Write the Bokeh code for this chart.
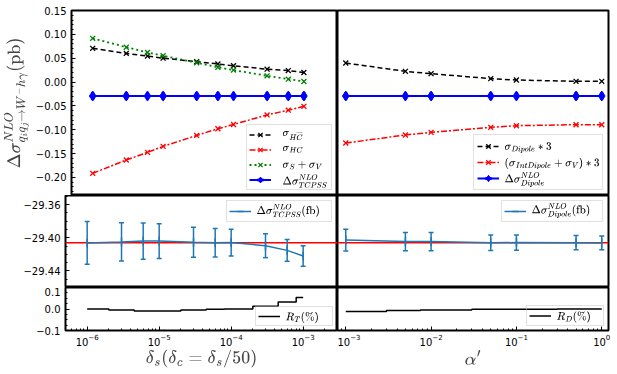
import numpy as np
from bokeh.plotting import figure
from bokeh.layouts import column, row
from bokeh.models import (Range1d, FixedTicker, LogTicker, CustomJSTickFormatter,
                          Legend, LegendItem, Span, Label)
from bokeh.embed import file_html
from bokeh.resources import INLINE

# ---------------- data ----------------
delta_s = [1e-6, 3e-6, 6e-6, 1e-5, 3e-5, 6e-5, 1e-4, 3e-4, 6e-4, 1e-3]
sigma_hcbar = [0.0706, 0.0600, 0.0545, 0.0500, 0.0427, 0.0378, 0.0340, 0.0270, 0.0240, 0.0200]
sigma_hc = [-0.1915, -0.1636, -0.1475, -0.1350, -0.1120, -0.0980, -0.0890, -0.0690, -0.0590, -0.0510]
sigma_sv = [0.0916, 0.0730, 0.0620, 0.0550, 0.0405, 0.0310, 0.0250, 0.0130, 0.0060, 0.0010]
dsig_tcpss_pb = [-0.0294, -0.0294, -0.0294, -0.0294, -0.0294, -0.0294, -0.0294, -0.0294, -0.0294, -0.0294]
dsig_tcpss_fb = [-29.4062, -29.4050, -29.4040, -29.4040, -29.4054, -29.4060, -29.4058, -29.4096, -29.4152, -29.4220]
err_tcpss_fb = [0.0258, 0.0230, 0.0218, 0.0210, 0.0182, 0.0172, 0.0162, 0.0144, 0.0132, 0.0124]
R_T = [0.0005, -0.0044, -0.0088, -0.0088, -0.0044, -0.0015, 0.0, 0.013, 0.032, 0.054]

alpha = [1e-3, 5e-3, 1e-2, 5e-2, 1e-1, 5e-1, 1.0]
sigma_dipole3 = [0.0398, 0.0224, 0.0175, 0.0070, 0.0042, 0.0014, 0.0014]
sigma_intdip3 = [-0.1280, -0.1110, -0.1056, -0.0950, -0.0916, -0.0895, -0.0895]
dsig_dipole_pb = [-0.0294, -0.0294, -0.0294, -0.0294, -0.0294, -0.0294, -0.0294]
dsig_dipole_fb = [-29.4028, -29.4046, -29.4046, -29.4060, -29.4058, -29.4060, -29.4062]
err_dipole_fb = [0.0132, 0.0110, 0.0110, 0.0094, 0.0092, 0.0086, 0.0084]
R_D = [-0.0118, -0.0074, -0.0044, -0.0015, -0.0010, 0.0, 0.0]

ref_fb = -29.406

top_ticks = [-0.20, -0.15, -0.10, -0.05, 0.00, 0.05, 0.10, 0.15]
top_minor = [-0.23, -0.22, -0.21, -0.19, -0.18, -0.17, -0.16, -0.14, -0.13, -0.12, -0.11,
             -0.09, -0.08, -0.07, -0.06, -0.04, -0.03, -0.02, -0.01, 0.01, 0.02, 0.03, 0.04,
             0.06, 0.07, 0.08, 0.09, 0.11, 0.12, 0.13, 0.14]
mid_ticks = [-29.44, -29.40, -29.36]
mid_minor = [-29.45, -29.43, -29.42, -29.41, -29.39, -29.38, -29.37, -29.35]
bot_ticks = [-0.1, 0.0, 0.1]
bot_minor = [-0.075, -0.05, -0.025, 0.025, 0.05, 0.075]

# ---------------- layout constants (page has no margin) ----------------
LB = 65
FW_L = 272
FW_R = 271
RB = 9
TOPB = 10
H_TOP = 185
H_MID = 92
H_BOT = 45
BOT_B = 16
LABEL_H = 374 - (TOPB + H_TOP + H_MID + H_BOT + BOT_B)

XR_L = Range1d(5e-7, 3e-3)
XR_R = Range1d(8e-4, 1.2)
YR_TOP = Range1d(-0.238, 0.15)
YR_MID = Range1d(-29.46, -29.349)
YR_BOT = Range1d(-0.1, 0.1)

FONT = "DejaVu Sans"


def fmt(dec):
    return CustomJSTickFormatter(code="return tick.toFixed(%d).replace('-', '\\u2212');" % dec)


def make(width, height, xr, yr, left_border, bottom_border, top_border=0, right_border=0):
    p = figure(width=width, height=height, x_axis_type="log", x_range=xr, y_range=yr,
               output_backend="svg", toolbar_location=None,
               min_border_left=left_border, min_border_right=right_border,
               min_border_top=top_border, min_border_bottom=bottom_border)
    p.grid.visible = False
    p.outline_line_color = "black"
    p.outline_line_width = 2
    p.outline_line_alpha = 1
    p.background_fill_color = "white"
    p.border_fill_color = "white"
    for ax in p.xaxis + p.yaxis:
        ax.axis_line_color = None
        ax.major_tick_in = 4
        ax.major_tick_out = 0
        ax.minor_tick_in = 2
        ax.minor_tick_out = 0
        ax.major_tick_line_color = "black"
        ax.minor_tick_line_color = "black"
        ax.major_label_text_font = FONT
        ax.major_label_text_font_size = "10px"
        ax.major_label_text_color = "black"
        ax.major_label_standoff = 5
    return p


def add_legend(p, renderer_groups, texts, corner, frame_w, frame_h, label_width,
               row_h=15, pad=2, glyph_w=22, standoff=4, margin=5, font_size="9px"):
    lg = Legend(items=[LegendItem(label=" ", renderers=g) for g in renderer_groups])
    lg.location = corner
    lg.border_line_color = "#c4c4c4"
    lg.border_line_width = 1
    lg.background_fill_alpha = 0.0
    lg.label_text_font_size = "6px"
    lg.glyph_width = glyph_w
    lg.glyph_height = row_h
    lg.label_height = row_h
    lg.label_width = label_width
    lg.label_standoff = standoff
    lg.padding = pad
    lg.spacing = 0
    lg.margin = margin
    p.add_layout(lg)
    n = len(texts)
    box_h = 2 * pad + n * row_h
    box_right = frame_w - margin
    if corner == "bottom_right":
        box_top = margin + box_h
    else:
        box_top = frame_h - margin
    tx = box_right - pad - label_width
    for i, t in enumerate(texts):
        ty = box_top - pad - (i + 0.5) * row_h
        p.add_layout(Label(x=tx, y=ty, x_units="screen", y_units="screen", text=t,
                           text_font_size=font_size, text_align="left",
                           text_baseline="middle", text_color="black", level="overlay"))


def step_mid(x, y):
    x = np.asarray(x, dtype=float)
    y = np.asarray(y, dtype=float)
    mids = (x[:-1] + x[1:]) / 2
    xs = np.concatenate([[x[0]], np.repeat(mids, 2), [x[-1]]])
    ys = np.repeat(y, 2)
    return xs, ys


# ---------------- top left ----------------
tl = make(LB + FW_L, H_TOP + TOPB, XR_L, YR_TOP, LB, 0, top_border=TOPB)
tl.xaxis.visible = False
tl.yaxis.ticker = FixedTicker(ticks=top_ticks, minor_ticks=top_minor)
tl.yaxis.formatter = fmt(2)
tl.yaxis.axis_label = r"$$\Delta\sigma^{NLO}_{q_iq_j\to W^-h\gamma}\mathrm{(pb)}$$"
tl.yaxis.axis_label_text_font_size = "14px"
tl.yaxis.axis_label_standoff = 4

r1l = tl.line(delta_s, sigma_hcbar, color="black", line_width=1.5, line_dash="5 3")
r1m = tl.scatter(delta_s, sigma_hcbar, marker="x", color="black", size=7, line_width=1.3)
r2l = tl.line(delta_s, sigma_hc, color="red", line_width=1.5, line_dash="6 2 2 2")
r2m = tl.scatter(delta_s, sigma_hc, marker="x", color="red", size=7, line_width=1.3)
r3l = tl.line(delta_s, sigma_sv, color="green", line_width=1.8, line_dash="2 3")
r3m = tl.scatter(delta_s, sigma_sv, marker="x", color="green", size=7, line_width=1.3)
r4l = tl.line(delta_s, dsig_tcpss_pb, color="blue", line_width=2)
r4v = tl.scatter(delta_s, dsig_tcpss_pb, marker="dash", angle=np.pi / 2, color="blue", size=8, line_width=3)
r4m = tl.scatter(delta_s, dsig_tcpss_pb, marker="diamond", color="blue", size=10)
add_legend(tl, [[r1l, r1m], [r2l, r2m], [r3l, r3m], [r4l, r4v, r4m]],
           [r"$$\sigma_{H\overline{C}}$$", r"$$\sigma_{HC}$$", r"$$\sigma_S+\sigma_V$$",
            r"$$\Delta\sigma^{NLO}_{TCPSS}$$"],
           "bottom_right", FW_L, H_TOP, label_width=54, row_h=15, pad=2)

# ---------------- top right ----------------
tr = make(FW_R + RB, H_TOP + TOPB, XR_R, YR_TOP, 0, 0, top_border=TOPB, right_border=RB)
tr.xaxis.visible = False
tr.yaxis.visible = False
s1l = tr.line(alpha, sigma_dipole3, color="black", line_width=1.5, line_dash="5 3")
s1m = tr.scatter(alpha, sigma_dipole3, marker="x", color="black", size=7, line_width=1.3)
s2l = tr.line(alpha, sigma_intdip3, color="red", line_width=1.5, line_dash="6 2 2 2")
s2m = tr.scatter(alpha, sigma_intdip3, marker="x", color="red", size=7, line_width=1.3)
s3l = tr.line(alpha, dsig_dipole_pb, color="blue", line_width=2)
s3v = tr.scatter(alpha, dsig_dipole_pb, marker="dash", angle=np.pi / 2, color="blue", size=8, line_width=3)
s3m = tr.scatter(alpha, dsig_dipole_pb, marker="diamond", color="blue", size=10)
add_legend(tr, [[s1l, s1m], [s2l, s2m], [s3l, s3v, s3m]],
           [r"$$\sigma_{Dipole}*3$$", r"$$(\sigma_{IntDipole}+\sigma_V)*3$$",
            r"$$\Delta\sigma^{NLO}_{Dipole}$$"],
           "bottom_right", FW_R, H_TOP, label_width=96, row_h=16, pad=3)

# ---------------- middle ----------------
BLUE = "#1f77b4"


def middle(p, x, y, err, label, frame_w, lw):
    sp = Span(location=ref_fb, dimension="width", line_color="red", line_width=1.5, level="underlay")
    p.add_layout(sp)
    y = np.asarray(y)
    e = np.asarray(err)
    p.segment(x0=x, y0=y - e, x1=x, y1=y + e, color=BLUE, line_width=1.5)
    p.scatter(x, y - e, marker="dash", size=5, color=BLUE, line_width=1.5)
    p.scatter(x, y + e, marker="dash", size=5, color=BLUE, line_width=1.5)
    rl = p.line(x, y, color=BLUE, line_width=1.5)
    rv = p.scatter(x, y, marker="dash", angle=np.pi / 2, size=9, color=BLUE, line_width=1.5)
    add_legend(p, [[rl, rv]], [label], "top_right", frame_w, H_MID,
               label_width=lw, row_h=16, pad=2)


ml = make(LB + FW_L, H_MID, XR_L, YR_MID, LB, 0)
ml.xaxis.visible = False
ml.yaxis.ticker = FixedTicker(ticks=mid_ticks, minor_ticks=mid_minor)
ml.yaxis.formatter = fmt(2)
middle(ml, delta_s, dsig_tcpss_fb, err_tcpss_fb, r"$$\Delta\sigma^{NLO}_{TCPSS}\text{(fb)}$$", FW_L, 74)

mr = make(FW_R + RB, H_MID, XR_R, YR_MID, 0, 0, right_border=RB)
mr.xaxis.visible = False
mr.yaxis.visible = False
middle(mr, alpha, dsig_dipole_fb, err_dipole_fb, r"$$\Delta\sigma^{NLO}_{Dipole}\text{(fb)}$$", FW_R, 70)

# ---------------- bottom ----------------
bl = make(LB + FW_L, H_BOT + BOT_B, XR_L, YR_BOT, LB, BOT_B)
bl.yaxis.ticker = FixedTicker(ticks=bot_ticks, minor_ticks=bot_minor)
bl.yaxis.formatter = fmt(1)
bl.xaxis.ticker = LogTicker(num_minor_ticks=10)
bl.xaxis.major_label_standoff = 3
xs, ys = step_mid(delta_s, R_T)
rb = bl.line(xs, ys, color="black", line_width=1.5)
add_legend(bl, [[rb]], [r"$$R_T(\%)$$"], "bottom_right", FW_L, H_BOT,
           label_width=46, row_h=14, pad=2, margin=4)

br = make(FW_R + RB, H_BOT + BOT_B, XR_R, YR_BOT, 0, BOT_B, right_border=RB)
br.yaxis.visible = False
br.xaxis.ticker = LogTicker(num_minor_ticks=10)
br.xaxis.major_label_standoff = 3
xs, ys = step_mid(alpha, R_D)
rb2 = br.line(xs, ys, color="black", line_width=1.5)
add_legend(br, [[rb2]], [r"$$R_D(\%)$$"], "bottom_right", FW_R, H_BOT,
           label_width=46, row_h=15, pad=2, margin=4)

# ---------------- x-axis titles strip ----------------
lab = figure(width=LB + FW_L + FW_R + RB, height=LABEL_H, x_axis_type=None, y_axis_type=None,
             x_range=Range1d(0, 1), y_range=Range1d(0, 1),
             output_backend="svg", toolbar_location=None,
             min_border_left=0, min_border_right=0, min_border_top=0, min_border_bottom=0)
lab.grid.visible = False
lab.outline_line_color = None
lab.border_fill_color = "white"
lab.add_layout(Label(x=LB + FW_L / 2, y=LABEL_H - 10, x_units="screen", y_units="screen",
                     text=r"$$\delta_s(\delta_c=\delta_s/50)$$", text_font_size="15px",
                     text_align="center", text_baseline="middle"))
lab.add_layout(Label(x=LB + FW_L + FW_R / 2, y=LABEL_H - 10, x_units="screen", y_units="screen",
                     text=r"$$\alpha'$$", text_font_size="15px",
                     text_align="center", text_baseline="middle"))

layout = column(row(tl, tr), row(ml, mr), row(bl, br), lab)
open("out.html", "w").write(file_html(layout, INLINE))
